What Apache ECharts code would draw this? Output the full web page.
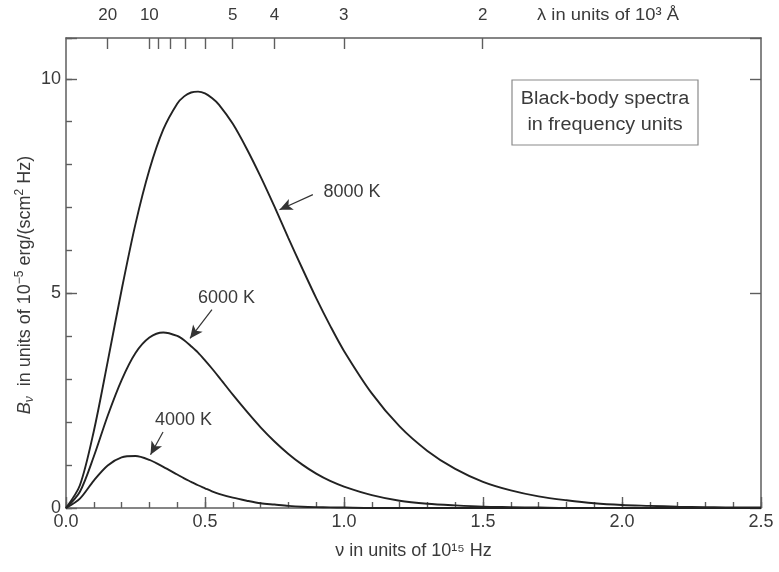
<!DOCTYPE html>
<html>
<head>
<meta charset="utf-8">
<script src="https://cdn.jsdelivr.net/npm/echarts@6/dist/echarts.min.js"></script>
<style>html,body{margin:0;padding:0;background:#fff}#c{width:779px;height:572px}</style>
</head>
<body>
<div id="c"></div>
<script>
// frequency in units of 1e15 Hz
var nu = [0, 0.05, 0.1, 0.15, 0.2, 0.25, 0.3, 0.35, 0.4, 0.425, 0.45, 0.475, 0.5, 0.525, 0.55, 0.6, 0.65, 0.7, 0.75, 0.8, 0.85, 0.9, 0.95, 1.0, 1.1, 1.2, 1.3, 1.4, 1.5, 1.6, 1.7, 1.8, 1.9, 2.0, 2.1, 2.2, 2.3, 2.4, 2.5];
// B_nu in units of 1e-5 erg/(s cm^2 Hz)
var b8000 = [0, 0.53, 1.79, 3.41, 5.08, 6.62, 7.88, 8.82, 9.42, 9.59, 9.68, 9.70, 9.66, 9.55, 9.40, 8.95, 8.37, 7.72, 7.02, 6.29, 5.58, 4.89, 4.25, 3.66, 2.67, 1.90, 1.33, 0.91, 0.61, 0.41, 0.27, 0.18, 0.11, 0.07, 0.05, 0.03, 0.02, 0.01, 0.01];
var b6000 = [0, 0.38, 1.20, 2.15, 2.98, 3.61, 3.97, 4.09, 4.01, 3.91, 3.77, 3.62, 3.44, 3.25, 3.05, 2.64, 2.25, 1.88, 1.55, 1.26, 1.01, 0.80, 0.63, 0.50, 0.30, 0.17, 0.10, 0.06, 0.03, 0.02, 0.01, 0, 0, 0, 0, 0, 0, 0, 0];
var b4000 = [0, 0.22, 0.64, 0.99, 1.18, 1.21, 1.12, 0.96, 0.78, 0.69, 0.61, 0.53, 0.46, 0.39, 0.33, 0.24, 0.17, 0.11, 0.08, 0.05, 0.03, 0.02, 0.015, 0.01, 0, 0, 0, 0, 0, 0, 0, 0, 0, 0, 0, 0, 0, 0, 0];
var seriesNames = ['8000 K', '6000 K', '4000 K'];
// wavelength ticks (units of 1e3 Angstrom) on the top axis
var lambdaTicks = [20, 10, 9, 8, 7, 6, 5, 4, 3, 2];
var lambdaLabels = [20, 10, 5, 4, 3, 2];
var C = 2.998; // c in units of 1e3 Angstrom * 1e15 Hz
// annotation: label position and arrow (start -> tip) in data coords
var annot = {
  '8000 K': {label: [1.029, 7.37], from: [0.888, 7.30], to: [0.768, 6.95]},
  '6000 K': {label: [0.577, 4.90], from: [0.525, 4.62], to: [0.446, 3.95]},
  '4000 K': {label: [0.423, 2.05], from: [0.349, 1.77], to: [0.304, 1.24]}
};

var FONT = '"Liberation Sans", Arial, Helvetica, sans-serif';
var AX = '#5e5e5e';
var TXT = '#3a3a3a';
function pairs(ys) { return nu.map(function (x, i) { return [x, ys[i]]; }); }
function mkSeries(name, ys) {
  var a = annot[name];
  return {
    name: name, type: 'line', xAxisIndex: 0, yAxisIndex: 0,
    data: pairs(ys), smooth: 0.3, showSymbol: false,
    lineStyle: {color: '#222', width: 1.9},
    markLine: {
      silent: true, symbol: ['none', 'arrow'], symbolSize: [9, 13],
      lineStyle: {color: '#333', width: 1.2, type: 'solid'},
      label: {show: false},
      data: [[{coord: a.from}, {coord: a.to}]]
    },
    markPoint: {
      silent: true, symbol: 'circle', symbolSize: 1,
      itemStyle: {color: 'rgba(0,0,0,0)'},
      label: {show: true, position: 'inside', formatter: name, color: TXT, fontSize: 18, fontFamily: FONT},
      data: [{coord: a.label}]
    }
  };
}
var YMAX = 10.95;
var chart = echarts.init(document.getElementById('c'));
chart.setOption({
  animation: false,
  backgroundColor: '#fff',
  textStyle: {fontFamily: FONT},
  grid: {left: 66, right: 18, top: 38, bottom: 64, containLabel: false},
  xAxis: [
    {type: 'value', position: 'bottom', min: 0, max: 2.5, interval: 0.5,
     axisLine: {show: true, onZero: false, lineStyle: {color: AX, width: 1.5}},
     axisTick: {show: true, inside: true, length: 11, lineStyle: {color: AX, width: 1.4}},
     splitLine: {show: false},
     axisLabel: {color: TXT, fontSize: 18, margin: 5, formatter: function (v) { return v.toFixed(1); }},
     name: 'ν in units of 10¹⁵ Hz', nameLocation: 'middle', nameGap: 34,
     nameTextStyle: {color: TXT, fontSize: 18, fontFamily: FONT}},
    {type: 'value', position: 'top', min: 0, max: 2.5,
     axisLine: {show: true, onZero: false, lineStyle: {color: AX, width: 1.5}},
     axisTick: {show: true, inside: true, length: 11, lineStyle: {color: AX, width: 1.4},
                customValues: lambdaTicks.map(function (l) { return C / l; })},
     axisLabel: {show: true, color: TXT, fontSize: 17, margin: 14,
                 customValues: lambdaLabels.map(function (l) { return C / l; }),
                 formatter: function (v) { return String(Math.round(C / v)); }},
     splitLine: {show: false}},
    {type: 'value', position: 'bottom', min: 0, max: 2.5, interval: 0.1,
     axisLine: {show: false, onZero: false},
     axisTick: {show: true, inside: true, length: 6, lineStyle: {color: AX, width: 1.4}},
     splitLine: {show: false}, axisLabel: {show: false}}
  ],
  yAxis: [
    {type: 'value', position: 'left', min: 0, max: YMAX, interval: 5,
     axisLine: {show: true, onZero: false, lineStyle: {color: AX, width: 1.5}},
     axisTick: {show: true, inside: true, length: 11, lineStyle: {color: AX, width: 1.4}},
     splitLine: {show: false},
     axisLabel: {color: TXT, fontSize: 18, margin: 5,
                 formatter: function (v) { return (v === 0 || v === 5 || v === 10) ? String(v) : ''; }}},
    {type: 'value', position: 'left', min: 0, max: YMAX, interval: 1,
     axisLine: {show: false, onZero: false},
     axisTick: {show: true, inside: true, length: 6, lineStyle: {color: AX, width: 1.4}},
     splitLine: {show: false}, axisLabel: {show: false}},
    {type: 'value', position: 'right', min: 0, max: YMAX, interval: 5,
     axisLine: {show: true, onZero: false, lineStyle: {color: AX, width: 1.5}},
     axisTick: {show: true, inside: true, length: 11, lineStyle: {color: AX, width: 1.4}},
     splitLine: {show: false}, axisLabel: {show: false}}
  ],
  graphic: [
    {type: 'text', x: 25, y: 285, rotation: Math.PI / 2,
     style: {text: '{i|B}{s|ν}{t|  in units of 10}{p|−5}{t| erg/(scm}{p|2}{t| Hz)}',
             align: 'center', verticalAlign: 'middle', fill: TXT,
             rich: {
               i: {fontSize: 18, fontStyle: 'italic', fontFamily: FONT, lineHeight: 22, verticalAlign: 'middle', fill: TXT},
               s: {fontSize: 12, fontStyle: 'italic', fontFamily: FONT, lineHeight: 22, verticalAlign: 'bottom', fill: TXT},
               t: {fontSize: 18, fontFamily: FONT, lineHeight: 22, verticalAlign: 'middle', fill: TXT},
               p: {fontSize: 12, fontFamily: FONT, lineHeight: 22, verticalAlign: 'top', fill: TXT}
             }}},
    {type: 'text', x: 608, y: 15, scaleX: 1.08,
     style: {text: 'λ in units of 10³ Å', align: 'center', verticalAlign: 'middle', fill: TXT, fontSize: 17, fontFamily: FONT}},
    {type: 'rect', shape: {x: 512, y: 80, width: 186, height: 65},
     style: {fill: '#fff', stroke: '#8a8a8a', lineWidth: 1.2}},
    {type: 'text', x: 605, y: 112, scaleX: 1.1,
     style: {text: 'Black-body spectra\nin frequency units', align: 'center', verticalAlign: 'middle',
             lineHeight: 26, fill: TXT, fontSize: 18, fontFamily: FONT}}
  ],
  series: [mkSeries(seriesNames[0], b8000), mkSeries(seriesNames[1], b6000), mkSeries(seriesNames[2], b4000)]
});
</script>
</body>
</html>
